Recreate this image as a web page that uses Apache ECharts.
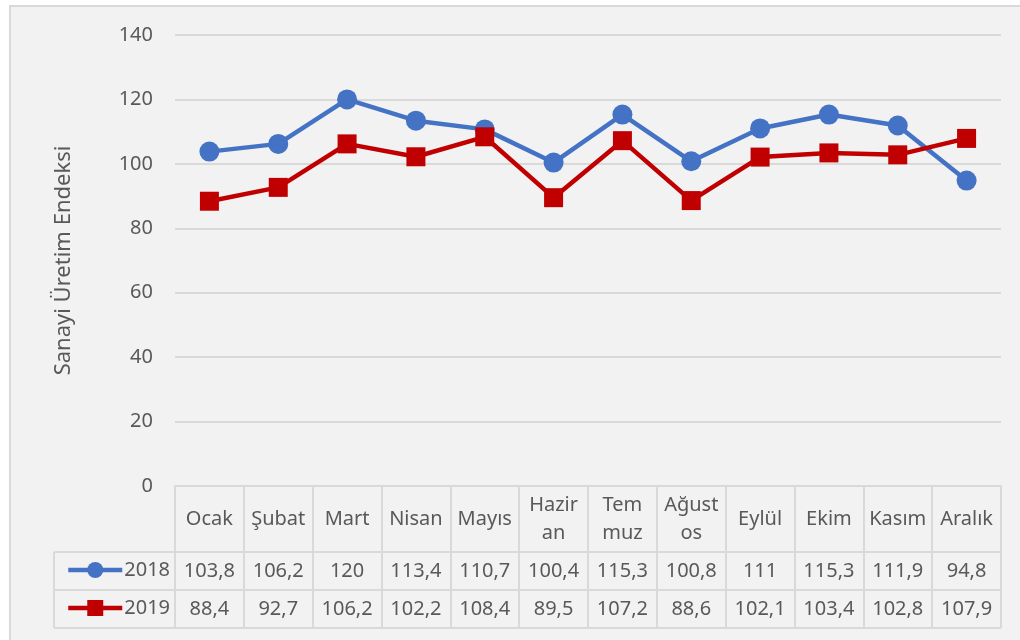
<!doctype html>
<html lang="tr">
<head>
<meta charset="utf-8">
<title>Sanayi Üretim Endeksi</title>
<script src="https://cdn.jsdelivr.net/npm/echarts@6/dist/echarts.min.js"></script>
<style>
    body { margin: 0; background: #fff; }
    #frame { position: absolute; left: 9px; top: 5px; width: 1100px; height: 700px; background: #F2F2F2; border: 2px solid #D9D9D9; }
    #main { position: absolute; left: 0; top: 0; width: 1020px; height: 640px; }
</style>
</head>
<body>
<div id="frame"></div>
<div id="main"></div>
<script>
    var months = ['Ocak', 'Şubat', 'Mart', 'Nisan', 'Mayıs', 'Hazir\nan', 'Tem\nmuz', 'Ağust\nos', 'Eylül', 'Ekim', 'Kasım', 'Aralık'];
    var data2018 = [103.8, 106.2, 120, 113.4, 110.7, 100.4, 115.3, 100.8, 111, 115.3, 111.9, 94.8];
    var data2019 = [88.4, 92.7, 106.2, 102.2, 108.4, 89.5, 107.2, 88.6, 102.1, 103.4, 102.8, 107.9];
    var yTicks = [0, 20, 40, 60, 80, 100, 120, 140];

    var textColor = '#595959';
    var ruleColor = '#D9D9D9';
    var font = 'Noto Sans';

    // 103.8 -> "103,8"
    function fmt(v) {
        return String(v).replace('.', ',');
    }

    function valueAxis(margin, values) {
        return {
            type: 'category',
            gridIndex: 0,
            position: 'bottom',
            data: months,
            axisLine: { show: false },
            axisTick: { show: false },
            splitLine: { show: false },
            axisLabel: {
                margin: margin,
                interval: 0,
                color: textColor,
                fontFamily: font,
                fontSize: 20,
                verticalAlign: 'middle',
                formatter: function (v, i) { return fmt(values[i]); }
            }
        };
    }

    var chart = echarts.init(document.getElementById('main'));
    chart.setOption({
        animation: false,
        grid: { left: 175, right: 19, top: 35, bottom: 154 },
        legend: {
            orient: 'vertical',
            left: 61,
            top: 555,
            itemWidth: 54,
            itemHeight: 20,
            itemGap: 18,
            lineStyle: { width: 4.5 },
            textStyle: { color: textColor, fontFamily: font, fontSize: 20, lineHeight: 20, padding: [0, 0, 0, -3] },
            data: ['2018', '2019']
        },
        xAxis: [{
            type: 'category',
            data: months,
            boundaryGap: true,
            axisLine: { lineStyle: { color: ruleColor, width: 2 } },
            axisTick: { show: true, length: 142, lineStyle: { color: ruleColor, width: 2 } },
            axisLabel: {
                margin: 33,
                interval: 0,
                color: textColor,
                fontFamily: font,
                fontSize: 20,
                lineHeight: 28,
                verticalAlign: 'middle'
            }
        },
            valueAxis(85, data2018),
            valueAxis(123, data2019)
        ],
        yAxis: {
            type: 'value',
            min: yTicks[0],
            max: yTicks[yTicks.length - 1],
            interval: 20,
            name: 'Sanayi Üretim Endeksi',
            nameLocation: 'middle',
            nameGap: 100,
            nameTextStyle: { color: textColor, fontFamily: font, fontSize: 22 },
            axisLine: { show: false },
            axisTick: { show: false },
            axisLabel: { color: textColor, fontFamily: font, fontSize: 20, margin: 22 },
            splitLine: { lineStyle: { color: ruleColor, width: 2 } }
        },
        series: [{
            name: '2018',
            type: 'line',
            data: data2018,
            symbol: 'circle',
            symbolSize: 20,
            itemStyle: { color: '#4472C4' },
            lineStyle: { color: '#4472C4', width: 4.5 }
        }, {
            name: '2019',
            type: 'line',
            data: data2019,
            symbol: 'rect',
            symbolSize: 19,
            itemStyle: { color: '#C00000' },
            lineStyle: { color: '#C00000', width: 4.5 }
        }],
        graphic: [
            { type: 'line', shape: { x1: 54, y1: 552, x2: 1001, y2: 552 }, style: { stroke: ruleColor, lineWidth: 2 } },
            { type: 'line', shape: { x1: 54, y1: 590, x2: 1001, y2: 590 }, style: { stroke: ruleColor, lineWidth: 2 } },
            { type: 'line', shape: { x1: 54, y1: 628, x2: 1001, y2: 628 }, style: { stroke: ruleColor, lineWidth: 2 } },
            { type: 'line', shape: { x1: 54, y1: 552, x2: 54, y2: 628 }, style: { stroke: ruleColor, lineWidth: 2 } }
        ]
    });
</script>
</body>
</html>
